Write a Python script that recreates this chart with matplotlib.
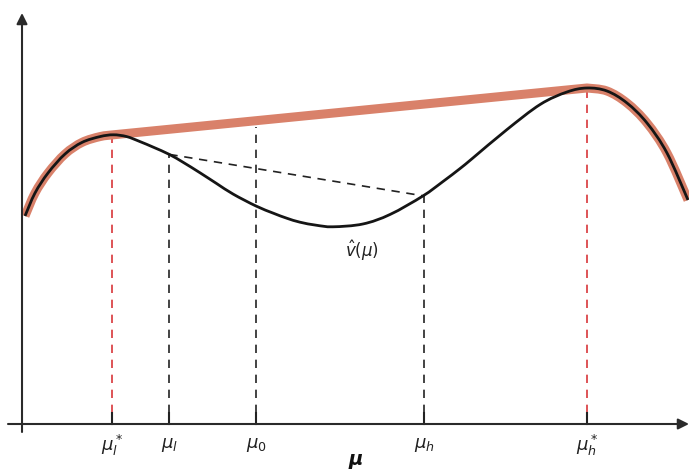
import numpy as np
import matplotlib
matplotlib.use("Agg")
import matplotlib.pyplot as plt
from matplotlib.path import Path
from matplotlib.patches import PathPatch

plt.rcParams['mathtext.fontset'] = 'dejavusans'

# value function v_hat(mu)
mu = [0.45, 1.95, 3.9, 6.45, 9.0, 11.69, 13.69, 15.70, 17.69, 19.69, 22.08,
      24.18, 26.69, 29.19, 31.68, 35.08, 37.68, 39.69, 41.68, 44.1, 46.6, 51.1,
      55.2, 60.1, 63.1, 65.7, 67.6, 72.7, 77.7, 81.7, 84.7, 87.7, 90.7, 93.7,
      96.7, 99.85]
v = [52.0, 57.75, 62.75, 67.5, 70.4, 71.85, 72.3, 71.85, 70.6, 69.2, 67.4,
     65.4, 62.8, 60.1, 57.45, 54.5, 52.7, 51.45, 50.45, 49.7, 49.3, 50.0,
     52.4, 57.0, 60.6, 63.9, 66.5, 73.6, 79.9, 83.0, 84.0, 83.25, 80.25, 75.25,
     67.75, 56.0]

# key beliefs
tick_pos = [13.5, 22.1, 35.1, 60.3, 84.7]
tick_labels = [r'$\mu_l^*$', r'$\mu_l$', r'$\mu_0$', r'$\mu_h$', r'$\mu_h^*$']
guide_top = [71.5, 67.4, 74.25, 57.0, 83.5]
guide_color = ['#d8363a', '#222222', '#222222', '#222222', '#d8363a']

mu_l_star, v_l_star = 13.69, 72.3
mu_h_star, v_h_star = 84.7, 84.0
mu_l, v_l = 22.1, 67.4
mu_h, v_h = 60.3, 57.0


def smooth_segments(xs, ys):
    """Catmull-Rom through the given points, as cubic Bezier path pieces."""
    p = np.column_stack([xs, ys])
    ext = np.vstack([p[0], p, p[-1]])
    verts, codes = [], []
    for i in range(len(p) - 1):
        p0, p1, p2, p3 = ext[i], ext[i + 1], ext[i + 2], ext[i + 3]
        c1 = p1 + (p2 - p0) / 6.0
        c2 = p2 - (p3 - p1) / 6.0
        verts += [tuple(c1), tuple(c2), tuple(p2)]
        codes += [Path.CURVE4] * 3
    return verts, codes


fig = plt.figure(figsize=(6.89, 4.70), dpi=100)
ax = fig.add_axes([0, 0, 1, 1])
ax.set_xlim(-3.3, 100)
ax.set_ylim(-11.5, 106)
ax.axis('off')

mu_a = np.array(mu)
v_a = np.array(v)

# concave envelope: curve, chord between the two peaks, curve
left = mu_a <= mu_l_star
right = mu_a >= mu_h_star
lv, lc = smooth_segments(mu_a[left], v_a[left])
rv, rc = smooth_segments(mu_a[right], v_a[right])
verts = [(mu_a[left][0], v_a[left][0])] + lv + [(mu_h_star, v_h_star)] + rv
codes = [Path.MOVETO] + lc + [Path.LINETO] + rc
ax.add_patch(PathPatch(Path(verts, codes), fill=False, edgecolor='#d9816a',
                       lw=6.5, capstyle='butt', joinstyle='round', zorder=2))

# guide lines
for x, top, c in zip(tick_pos, guide_top, guide_color):
    ax.plot([x, x], [2.75, top], color=c, lw=1.2, ls=(0, (5, 4)), zorder=1)
    ax.plot([x, x], [0, 2.75], color='#222222', lw=1.5, zorder=1)

ax.plot([mu_l, mu_h], [v_l, v_h], color='#222222', lw=1.2, ls=(0, (5, 4)), zorder=1)

# value function
cv, cc = smooth_segments(mu_a, v_a)
ax.add_patch(PathPatch(Path([(mu_a[0], v_a[0])] + cv, [Path.MOVETO] + cc),
                       fill=False, edgecolor='#151515', lw=2.0,
                       capstyle='butt', zorder=3))

# axes with arrows
ax.annotate('', xy=(100, 0), xytext=(-2.1, 0),
            arrowprops=dict(arrowstyle='-|>', color='#2a2a2a', lw=1.5,
                            mutation_scale=16, shrinkA=0, shrinkB=0))
ax.annotate('', xy=(0, 102.75), xytext=(0, -2.0),
            arrowprops=dict(arrowstyle='-|>', color='#2a2a2a', lw=1.5,
                            mutation_scale=16, shrinkA=0, shrinkB=0))

for x, lab in zip(tick_pos, tick_labels):
    ax.text(x, -5.3, lab, ha='center', va='center', fontsize=13, color='#222222')

ax.text(50.0, -9.3, r'$\boldsymbol{\mu}$', ha='center', va='center', fontsize=14,
        color='#111111')
ax.text(51.0, 43.25, r'$\hat{v}(\mu)$', ha='center', va='center', fontsize=12,
        color='#222222')

fig.savefig('out.png', dpi=100)
